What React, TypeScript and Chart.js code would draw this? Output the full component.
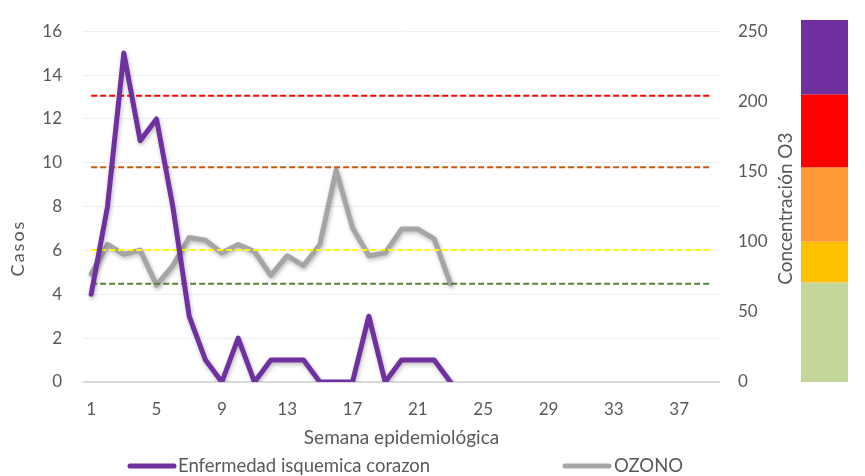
import React, { useEffect, useRef } from 'react';
import { Chart, registerables } from 'chart.js';

Chart.register(...registerables);

const weeks = ['1','2','3','4','5','6','7','8','9','10','11','12','13','14','15','16','17','18','19','20','21','22','23','24','25','26','27','28','29','30','31','32','33','34','35','36','37','38','39'];
const casos = [4, 8, 15, 11, 12, 8, 3, 1, 0, 2, 0, 1, 1, 1, 0, 0, 0, 3, 0, 1, 1, 1, 0];
const ozono = [77, 98, 91, 94, 69, 83, 103, 101, 92, 98, 93, 76, 90, 83, 98, 151, 110, 90, 92, 109, 109, 102, 70];
const thresholdValues = [204, 153, 94, 70];
const thresholdColors = ['#FF0000', '#C55A11', '#FFFF00', '#548235'];
const bandEdges = [0, 71, 100, 153, 205, 258];
const bandColors = ['#C4D79B', '#FFC000', '#FF9933', '#FF0000', '#7030A0'];
const casosLabel = 'Enfermedad isquemica corazon';
const ozonoLabel = 'OZONO';
const xTitle = 'Semana epidemiológica';
const yTitle = 'Casos';
const y1Title = 'Concentración O3';

const FONT = 'Lato, "Noto Sans", sans-serif';
const TEXT = '#595959';
const PURPLE = '#7030A0';
const GRAY = '#A5A5A5';

const extrasPlugin = {
  id: 'extras',
  beforeDatasetDraw(chart: any, args: any) {
    const ds = chart.data.datasets[args.index];
    if (ds && ds.shadow) {
      const ctx = chart.ctx;
      ctx.save();
      ctx.shadowColor = 'rgba(0,0,0,0.28)';
      ctx.shadowBlur = 4;
      ctx.shadowOffsetX = 1;
      ctx.shadowOffsetY = 2;
    }
  },
  afterDatasetDraw(chart: any, args: any) {
    const ds = chart.data.datasets[args.index];
    if (ds && ds.shadow) chart.ctx.restore();
  },
  afterDraw(chart: any) {
    const ctx = chart.ctx;
    const y1 = chart.scales.y1;
    const area = chart.chartArea;
    // colour band bar
    for (let i = 0; i < bandColors.length; i++) {
      const top = y1.getPixelForValue(bandEdges[i + 1]);
      const bot = y1.getPixelForValue(bandEdges[i]);
      ctx.fillStyle = bandColors[i];
      ctx.fillRect(801, top, 47, bot - top);
    }
    ctx.save();
    ctx.fillStyle = TEXT;
    ctx.textBaseline = 'middle';
    ctx.textAlign = 'center';
    // right axis title
    ctx.save();
    ctx.font = '19px ' + FONT;
    ctx.translate(786, (area.top + area.bottom) / 2 + 2);
    ctx.rotate(-Math.PI / 2);
    ctx.fillText(y1Title, 0, 0);
    ctx.restore();
    // left axis title
    ctx.save();
    ctx.font = '18px ' + FONT;
    ctx.translate(18, 248);
    ctx.rotate(-Math.PI / 2);
    (ctx as any).letterSpacing = '2px';
    ctx.fillText(yTitle, 0, 0);
    ctx.restore();
    // legend
    ctx.font = '18.5px ' + FONT;
    ctx.textAlign = 'left';
    ctx.lineCap = 'round';
    ctx.lineWidth = 5;
    ctx.strokeStyle = PURPLE;
    ctx.beginPath();
    ctx.moveTo(130, 466);
    ctx.lineTo(174, 466);
    ctx.stroke();
    ctx.fillText(casosLabel, 178, 466);
    ctx.strokeStyle = GRAY;
    ctx.beginPath();
    ctx.moveTo(565, 466);
    ctx.lineTo(609, 466);
    ctx.stroke();
    ctx.fillText(ozonoLabel, 614, 466);
    ctx.restore();
  },
};

export default function App() {
  const ref = useRef<HTMLCanvasElement>(null);
  useEffect(() => {
    if (!ref.current) return;
    const thresholdSets = thresholdValues.map((v, i) => ({
      label: 'umbral' + i,
      data: weeks.map(() => v),
      yAxisID: 'y1',
      borderColor: thresholdColors[i],
      borderWidth: 2,
      borderDash: [6, 3],
      pointRadius: 0,
      fill: false,
    }));
    const chart = new Chart(ref.current, {
      type: 'line',
      data: {
        labels: weeks,
        datasets: [
          {
            label: casosLabel,
            data: casos,
            yAxisID: 'y',
            borderColor: PURPLE,
            borderWidth: 5,
            pointRadius: 0,
            borderJoinStyle: 'round',
            borderCapStyle: 'round',
            tension: 0,
            shadow: true,
          } as any,
          ...thresholdSets,
          {
            label: ozonoLabel,
            data: ozono,
            yAxisID: 'y1',
            borderColor: GRAY,
            borderWidth: 5,
            pointRadius: 0,
            borderJoinStyle: 'round',
            borderCapStyle: 'round',
            tension: 0,
            shadow: true,
          } as any,
        ],
      },
      options: {
        animation: false,
        responsive: true,
        maintainAspectRatio: false,
        layout: { padding: { left: 0, right: 70, top: 28, bottom: 26 } },
        plugins: { legend: { display: false }, tooltip: { enabled: false } },
        scales: {
          x: {
            type: 'category',
            offset: true,
            grid: { display: false, drawTicks: false, offset: true },
            border: { display: false },
            ticks: {
              autoSkip: false,
              maxRotation: 0,
              padding: 17,
              color: TEXT,
              font: { family: FONT, size: 17 },
              callback: (_v: any, i: number) => (i % 4 === 0 ? weeks[i] : ''),
            },
            title: {
              display: true,
              text: xTitle,
              color: TEXT,
              font: { family: FONT, size: 19 },
              padding: { top: 0, bottom: 1 },
            },
            afterFit: (s: any) => { s.height = 68; },
          },
          y: {
            position: 'left',
            min: 0,
            max: 16,
            ticks: { stepSize: 2, padding: 21, color: TEXT, font: { family: FONT, size: 17 } },
            grid: {
              drawTicks: false,
              color: (c: any) => (c.tick && c.tick.value === 0 ? '#D9D9D9' : '#EFEFEF'),
              lineWidth: (c: any) => (c.tick && c.tick.value === 0 ? 2 : 1),
            },
            border: { display: false },
            afterFit: (s: any) => { s.width = 83; },
          },
          y1: {
            position: 'right',
            min: 0,
            max: 250,
            ticks: { stepSize: 50, padding: 18, color: TEXT, font: { family: FONT, size: 17 } },
            grid: { display: false, drawTicks: false },
            border: { display: false },
            afterFit: (s: any) => { s.width = 75; },
          },
        },
      } as any,
      plugins: [extrasPlugin],
    });
    return () => chart.destroy();
  }, []);
  return (
    <div style={{ position: 'fixed', left: 0, top: 0, width: 865, height: 476, background: '#fff' }}>
      <canvas ref={ref} />
    </div>
  );
}
